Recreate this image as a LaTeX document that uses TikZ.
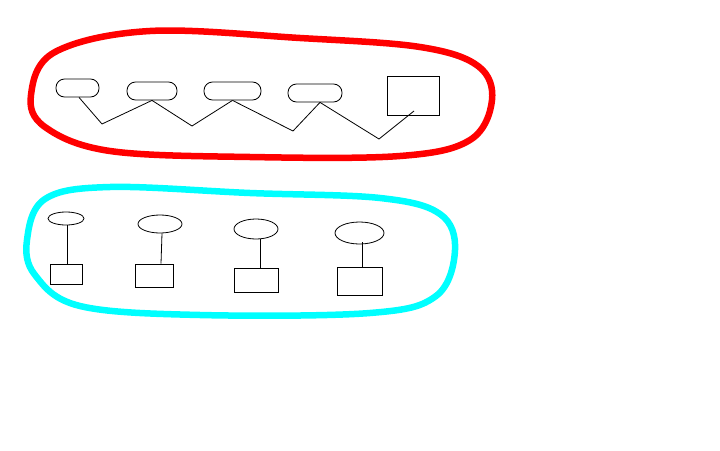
\documentclass[tikz,border=0pt]{standalone}
\usepackage{tikz}
\usetikzlibrary{shapes.geometric}

\definecolor{loopred}{RGB}{255,0,0}
\definecolor{loopcyan}{RGB}{0,255,255}

\tikzset{
	pill/.style={shape=rectangle,draw=black,rounded corners=8.5pt,minimum height=18pt,inner sep=0pt},
	box/.style={shape=rectangle,draw=black,inner sep=0pt},
	oval/.style={shape=ellipse,draw=black,inner sep=0pt},
	wire/.style={draw=black,line width=0.8pt},
	spray/.style={line width=6.5pt,line join=round}
}

\begin{document}
\begin{tikzpicture}[x=1pt,y=-1pt,line width=0.8pt]
	\useasboundingbox[fill=white] (0,0) rectangle (720,450);

	% red loop
	\draw[spray,loopred] plot[smooth cycle,tension=0.6] coordinates {(31,95) (55,52) (150,31) (300,38) (420,47) (478,66) (492,100) (470,140) (400,156) (250,157) (110,151) (45,127)};

	% cyan loop
	\draw[spray,loopcyan] plot[smooth cycle,tension=0.6] coordinates {(27,240) (45,199) (110,187) (250,193) (380,198) (440,214) (455,250) (436,296) (370,313) (200,315) (80,306) (35,275)};

	% top row
	\node[pill,minimum width=43pt] (p1) at (77.5,88)  {};
	\node[pill,minimum width=50pt] (p2) at (152,91)   {};
	\node[pill,minimum width=57pt] (p3) at (232.5,91) {};
	\node[pill,minimum width=54pt] (p4) at (315,93)   {};
	\node[box,minimum width=52pt,minimum height=39pt] (sq) at (413,95.5) {};

	\coordinate (v1) at (102,124);
	\coordinate (v2) at (192,126);
	\coordinate (v3) at (293,131);
	\coordinate (v4) at (379,139);
	\coordinate (s1) at (414,111);

	\path[wire] ([xshift=1.5pt]p1.south) edge (v1);
	\path[wire] (v1) edge (p2.south);
	\path[wire] (p2.south) edge (v2);
	\path[wire] (v2) edge (p3.south);
	\path[wire] (p3.south) edge (v3);
	\path[wire] (v3) edge ([xshift=5pt]p4.south);
	\path[wire] ([xshift=5pt]p4.south) edge (v4);
	\path[wire] (v4) edge (s1);

	% bottom row
	\node[oval,minimum width=36pt,minimum height=13pt] (e1) at (66,218.5) {};
	\node[oval,minimum width=44pt,minimum height=18pt] (e2) at (160,224)  {};
	\node[oval,minimum width=44pt,minimum height=20pt] (e3) at (256,229)  {};
	\node[oval,minimum width=49pt,minimum height=22pt] (e4) at (359.5,233) {};

	\node[box,minimum width=32pt,minimum height=20pt] (r1) at (66,274)    {};
	\node[box,minimum width=38pt,minimum height=23pt] (r2) at (154,275.5) {};
	\node[box,minimum width=44pt,minimum height=24pt] (r3) at (256,280)   {};
	\node[box,minimum width=45pt,minimum height=28pt] (r4) at (359.5,281) {};

	\path[wire] ([xshift=1pt]e1.south) edge ([xshift=1pt]e1.south |- r1.north);
	\path[wire] ([xshift=2pt]e2.south) edge ([xshift=1pt]e2.south |- r2.north);
	\path[wire] ([xshift=4pt]e3.south) edge ([xshift=4pt]e3.south |- r3.north);
	\path[wire] ([xshift=2.5pt,yshift=2pt]e4.south) edge ([xshift=2.5pt]e4.south |- r4.north);

\end{tikzpicture}
\end{document}
